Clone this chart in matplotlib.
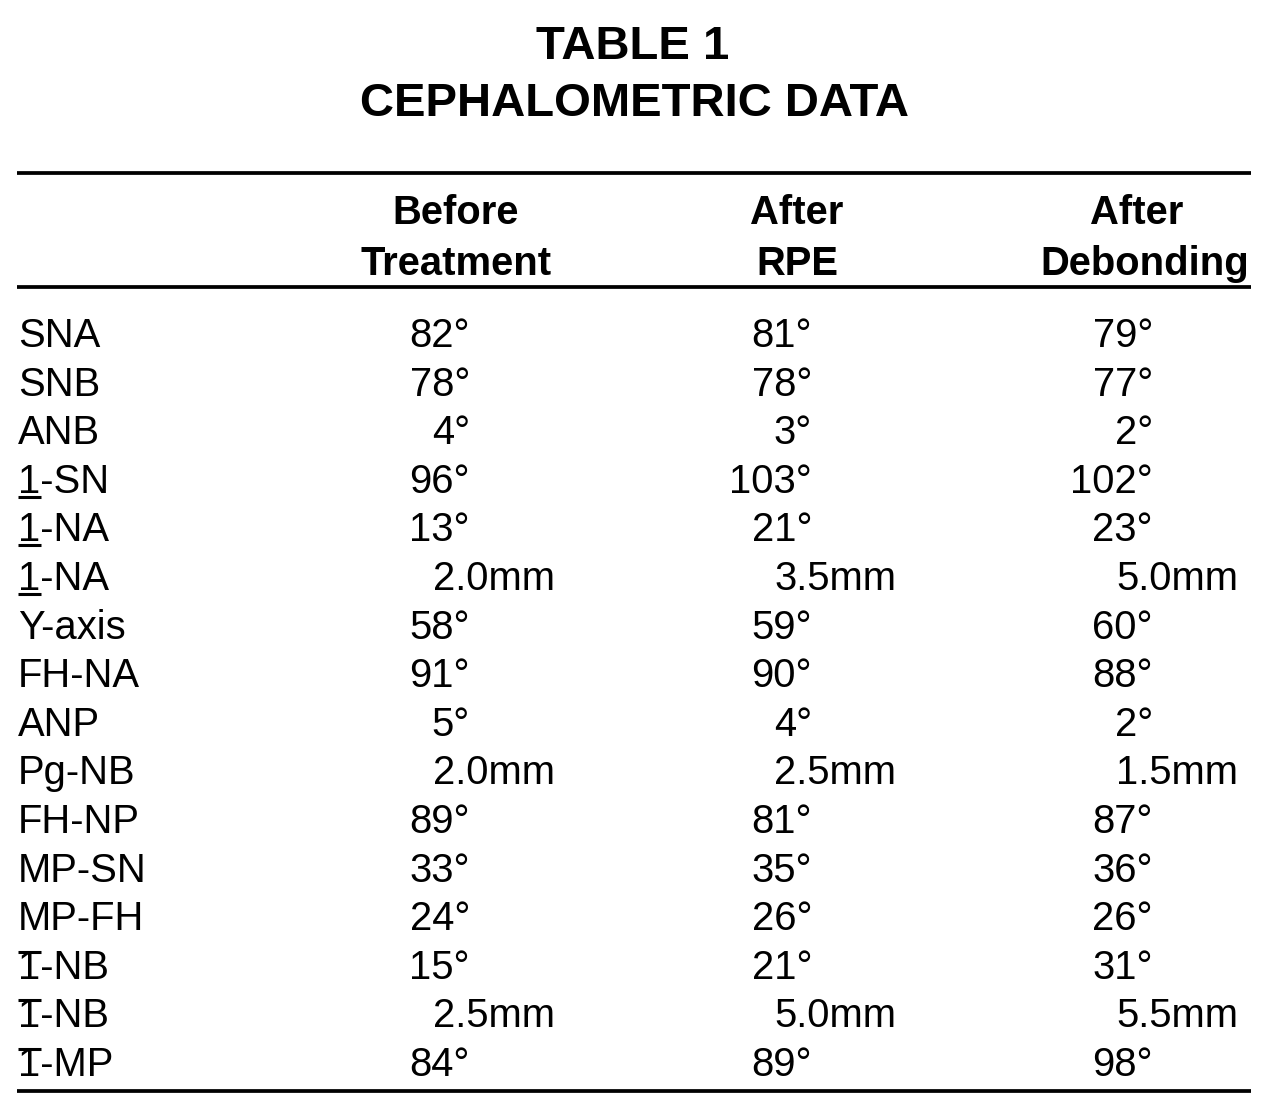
import matplotlib
matplotlib.use("Agg")
import matplotlib.pyplot as plt

# table content
title = ["TABLE 1", "CEPHALOMETRIC DATA"]
col_heads = [("Before", "Treatment"), ("After", "RPE"), ("After", "Debonding")]
labels = ["SNA", "SNB", "ANB", "1-SN", "1-NA", "1-NA", "Y-axis", "FH-NA", "ANP",
          "Pg-NB", "FH-NP", "MP-SN", "MP-FH", "1-NB", "1-NB", "1-MP"]
# which rows have a bar under / over the leading "1"
marks = ["", "", "", "under", "under", "under", "", "", "", "", "", "", "",
         "over", "over", "over"]
units = ["deg", "deg", "deg", "deg", "deg", "mm", "deg", "deg", "deg", "mm",
         "deg", "deg", "deg", "deg", "mm", "deg"]
before = [82, 78, 4, 96, 13, 2.0, 58, 91, 5, 2.0, 89, 33, 24, 15, 2.5, 84]
after_rpe = [81, 78, 3, 103, 21, 3.5, 59, 90, 4, 2.5, 81, 35, 26, 21, 5.0, 89]
after_deb = [79, 77, 2, 102, 23, 5.0, 60, 88, 2, 1.5, 87, 36, 26, 31, 5.5, 98]

W, H = 1277, 1117
fig = plt.figure(figsize=(W / 100, H / 100), dpi=100)
ax = fig.add_axes([0, 0, 1, 1])
ax.set_xlim(0, W)
ax.set_ylim(H, 0)
ax.axis('off')

font = "Liberation Sans"
body = 28.8
head = 28.8
dy = 3  # va='center' sits a little high, nudge down

# title
ax.text(633, 44 + dy, title[0], ha='center', va='center', fontsize=34, fontweight='bold', family=font)
ax.text(634, 101 + dy, title[1], ha='center', va='center', fontsize=34, fontweight='bold', family=font)

# rules
x0, x1 = 17, 1251
for y in (173, 287, 1091):
    ax.plot([x0, x1], [y, y], color='black', lw=2.7, solid_capstyle='butt')

# column headers (first line / second line centres)
head_x1 = [456, 797, 1137]
head_x2 = [456, 797, 1145]
for c, (l1, l2) in enumerate(col_heads):
    ax.text(head_x1[c], 210 + dy, l1, ha='center', va='center', fontsize=head, fontweight='bold', family=font)
    ax.text(head_x2[c], 261 + dy, l2, ha='center', va='center', fontsize=head, fontweight='bold', family=font)

# value columns: degrees right aligned, mm left aligned
deg_right = [470, 812, 1153]
mm_left = [433, 774, 1116]

row_y0, row_dy = 333, 48.6
fig.canvas.draw()
renderer = fig.canvas.get_renderer()

for i, lab in enumerate(labels):
    y = row_y0 + i * row_dy + dy
    ax.text(18, y, lab, ha='left', va='center', fontsize=body, family=font)
    if marks[i]:
        one = ax.text(18, y, "1", ha='left', va='center', fontsize=body, family=font, alpha=0)
        bb = one.get_window_extent(renderer).transformed(ax.transData.inverted())
        xa, xb = bb.x0, bb.x1
        if marks[i] == "under":
            ly = y + 15
        else:
            ly = y - 16
        ax.plot([xa - 0.5, xb + 0.5], [ly, ly], color='black', lw=2.2, solid_capstyle='butt')
    for c, vals in enumerate((before, after_rpe, after_deb)):
        v = vals[i]
        if units[i] == "mm":
            ax.text(mm_left[c], y, f"{v:.1f}mm", ha='left', va='center', fontsize=body, family=font)
        else:
            ax.text(deg_right[c], y, f"{v}°", ha='right', va='center', fontsize=body, family=font)

fig.savefig("out.png", dpi=100, facecolor='white')
